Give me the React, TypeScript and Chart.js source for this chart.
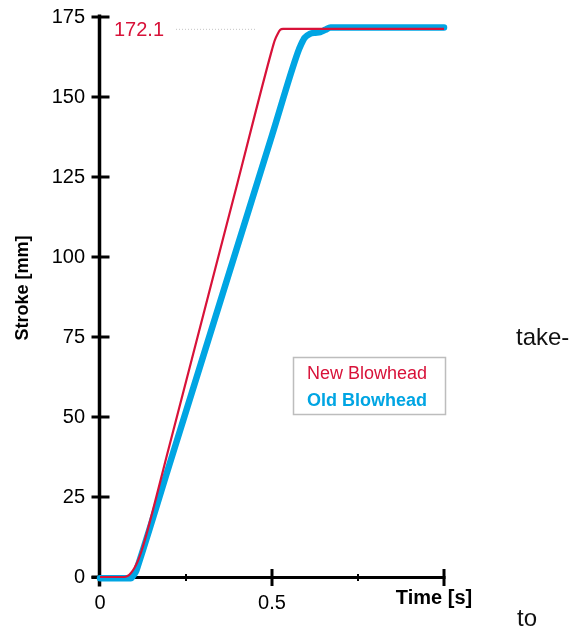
import { useEffect, useRef } from "react";
import { Chart, registerables } from "chart.js";

Chart.register(...registerables);

// ---- data ----
const seriesNames = ["New Blowhead", "Old Blowhead"];
const newTime = [0, 0.07, 0.08, 0.09, 0.1, 0.11, 0.12, 0.136, 0.2, 0.3, 0.4, 0.5, 0.508, 0.516, 0.524, 0.532, 0.7, 1.0];
const newStroke = [0, 0, 0.31, 1.26, 2.83, 5.0, 7.9, 13.7, 40.3, 81.8, 123.3, 164.8, 167.7, 169.6, 171.0, 171.3, 171.3, 171.3];
const oldTime = [0, 0.05, 0.09, 0.095, 0.1, 0.105, 0.11, 0.2, 0.3, 0.4, 0.5, 0.575, 0.585, 0.595, 0.61, 0.625, 0.64, 0.655, 0.67, 0.8, 1.0];
const oldStroke = [-0.4, -0.4, -0.4, 0.2, 0.9, 1.9, 3.45, 34.5, 69, 103.5, 138, 163.9, 166.5, 168.5, 169.7, 170.1, 170.3, 171.0, 171.7, 171.7, 171.7];
const xLabeledTicks = [0, 0.5];
const xTickLabels = ["0", "0.5"];
const peakLabel = "172.1";
const xTitle = "Time [s]";
const yTitle = "Stroke [mm]";
const pageWords = ["take-", "to"];

const RED = "#d81239";
const BLUE = "#00a5e3";
const FONT = "'Liberation Sans', Arial, sans-serif";

const decor = {
  id: "decor",
  beforeDatasetsDraw(chart: any) {
    const { ctx, scales } = chart;
    const x = scales.x;
    const y = scales.y;
    const ax = x.getPixelForValue(0) - 0.5;
    const ay = y.getPixelForValue(0) + 0.5;
    ctx.save();
    ctx.strokeStyle = "#000";
    ctx.lineCap = "butt";
    ctx.lineWidth = 3.5;
    ctx.beginPath();
    ctx.moveTo(ax, y.getPixelForValue(y.max) - 2.5);
    ctx.lineTo(ax, ay + 9);
    ctx.stroke();
    ctx.lineWidth = 3;
    ctx.beginPath();
    ctx.moveTo(ax - 8, ay);
    ctx.lineTo(x.getPixelForValue(x.max) + 1.5, ay);
    ctx.stroke();
    y.ticks.forEach((t: any) => {
      const py = y.getPixelForValue(t.value);
      ctx.beginPath();
      ctx.moveTo(ax - 8, py);
      ctx.lineTo(ax + 10, py);
      ctx.stroke();
    });
    x.ticks.forEach((t: any) => {
      if (t.value === 0) return;
      const px = x.getPixelForValue(t.value);
      const major = Math.abs(t.value * 2 - Math.round(t.value * 2)) < 1e-6;
      ctx.lineWidth = major ? 3 : 2;
      const h = major ? 8.5 : 3.5;
      ctx.beginPath();
      ctx.moveTo(px, ay - h);
      ctx.lineTo(px, ay + h);
      ctx.stroke();
    });
    ctx.restore();
  },
  afterDraw(chart: any) {
    const { ctx, scales } = chart;
    const y = scales.y;
    ctx.save();
    const peakY = y.getPixelForValue(newStroke[newStroke.length - 1]) + 0.5;
    ctx.fillStyle = RED;
    ctx.font = `20px ${FONT}`;
    ctx.textAlign = "left";
    ctx.textBaseline = "middle";
    ctx.fillText(peakLabel, 114, peakY + 1);
    ctx.strokeStyle = "#c4c4c4";
    ctx.lineWidth = 1;
    ctx.setLineDash([1, 2]);
    ctx.beginPath();
    ctx.moveTo(176, peakY);
    ctx.lineTo(255, peakY);
    ctx.stroke();
    ctx.setLineDash([]);

    ctx.strokeStyle = "#bdbdbd";
    ctx.lineWidth = 1.5;
    ctx.strokeRect(293.5, 357.5, 152, 57);
    ctx.font = `18px ${FONT}`;
    ctx.fillStyle = RED;
    ctx.fillText(seriesNames[0], 307, 374);
    ctx.font = `bold 18px ${FONT}`;
    ctx.fillStyle = BLUE;
    ctx.fillText(seriesNames[1], 307, 401);

    ctx.fillStyle = "#000";
    ctx.font = `bold 20px ${FONT}`;
    ctx.textAlign = "center";
    ctx.textBaseline = "alphabetic";
    ctx.fillText(xTitle, 434, 604);
    ctx.save();
    ctx.translate(28, 288);
    ctx.rotate(-Math.PI / 2);
    ctx.font = `bold 18px ${FONT}`;
    ctx.fillText(yTitle, 0, 0);
    ctx.restore();
    ctx.restore();
  },
};

export default function App() {
  const ref = useRef<HTMLCanvasElement | null>(null);
  useEffect(() => {
    if (!ref.current) return;
    const chart = new Chart(ref.current, {
      type: "line",
      data: {
        datasets: [
          {
            label: seriesNames[0],
            data: newTime.map((t, i) => ({ x: t, y: newStroke[i] })),
            borderColor: RED,
            borderWidth: 2.2,
            pointRadius: 0,
            cubicInterpolationMode: "monotone",
            clip: false,
            fill: false,
          },
          {
            label: seriesNames[1],
            data: oldTime.map((t, i) => ({ x: t, y: oldStroke[i] })),
            borderColor: BLUE,
            borderWidth: 6.5,
            borderCapStyle: "round",
            pointRadius: 0,
            cubicInterpolationMode: "monotone",
            clip: false,
            fill: false,
          },
        ],
      },
      options: {
        responsive: false,
        animation: false,
        layout: { padding: { left: 0, top: 17, right: 139, bottom: 0 } },
        plugins: { legend: { display: false }, tooltip: { enabled: false } },
        scales: {
          x: {
            type: "linear",
            min: 0,
            max: 1,
            afterFit: (s: any) => {
              s.height = 51;
              s.paddingLeft = 0;
              s.paddingRight = 0;
            },
            grid: { drawOnChartArea: false, drawTicks: false },
            border: { display: false },
            ticks: {
              stepSize: 0.25,
              autoSkip: false,
              maxRotation: 0,
              padding: 14,
              color: "#000",
              font: { family: FONT, size: 20 },
              callback: (v: any) => {
                const i = xLabeledTicks.findIndex((t) => Math.abs(t - Number(v)) < 1e-6);
                return i >= 0 ? xTickLabels[i] : "";
              },
            },
          },
          y: {
            min: 0,
            max: 175,
            afterFit: (s: any) => {
              s.width = 100;
              s.paddingTop = 0;
              s.paddingBottom = 0;
            },
            grid: { drawOnChartArea: false, drawTicks: false },
            border: { display: false },
            ticks: {
              stepSize: 25,
              padding: 15,
              color: "#000",
              font: { family: FONT, size: 20 },
            },
          },
        },
      },
      plugins: [decor],
    });
    return () => chart.destroy();
  }, []);

  const wordStyle = {
    position: "absolute" as const,
    fontFamily: FONT,
    fontSize: "24px",
    lineHeight: "24px",
    color: "#111",
    margin: 0,
    whiteSpace: "nowrap" as const,
  };

  return (
    <div style={{ position: "absolute", left: 0, top: 0, width: 583, height: 628, background: "#fff", overflow: "hidden" }}>
      <canvas ref={ref} width={583} height={628} style={{ display: "block", position: "absolute", left: 0, top: 0 }} />
      <span style={{ ...wordStyle, left: 516, top: 325 }}>{pageWords[0]}</span>
      <span style={{ ...wordStyle, left: 517, top: 606 }}>{pageWords[1]}</span>
    </div>
  );
}
